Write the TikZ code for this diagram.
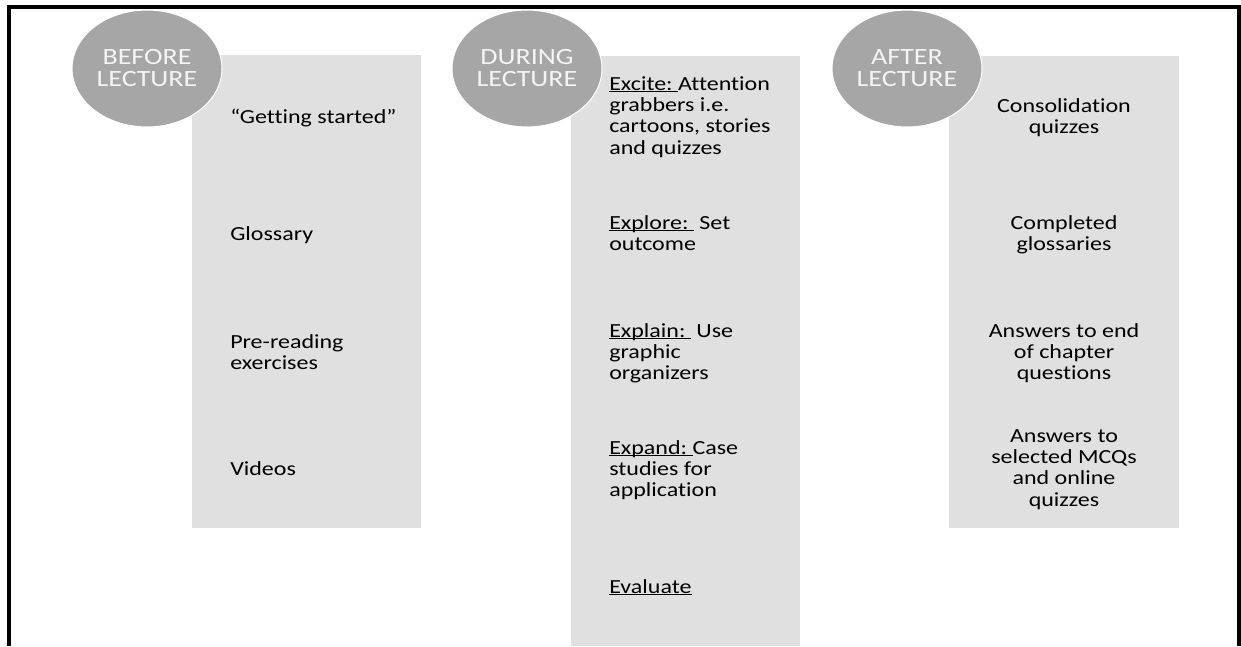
\documentclass[tikz,border=0pt]{standalone}
\usepackage{fontspec}
\setmainfont{Carlito}[FakeStretch=1.2, Ligatures=NoCommon]
\usetikzlibrary{shapes.geometric}
\definecolor{boxgray}{HTML}{E0E0E0}
\definecolor{ballgray}{HTML}{A6A6A6}
\definecolor{balltext}{HTML}{F4F4F4}
% underline just below the baseline
\newcommand{\undl}[1]{\setbox0\hbox{#1}\rlap{\rule[-1.6pt]{\wd0}{0.6pt}}\box0}

\begin{document}
\begin{tikzpicture}[x=0.75pt,y=-0.75pt,
    phase/.style={ellipse, fill=ballgray, draw=white, line width=0.8pt,
      minimum width=112.5pt, minimum height=87.75pt, inner sep=0pt,
      align=center, text=balltext, font=\fontsize{17.5}{16.5}\selectfont},
    item/.style={anchor=north west, align=left, inner sep=0pt,
      font=\fontsize{15}{16}\selectfont},
    citem/.style={item, anchor=north, align=center}]
    \useasboundingbox (0,0) rectangle (1241,646);

    % draw frame
    \draw[line width=3pt] (9,646) -- (9,7) -- (1239,7) -- (1239,646);

    % draw columns
    \fill[boxgray] (192,55) rectangle (421,528);
    \fill[boxgray] (571,56) rectangle (800,646);
    \fill[boxgray] (949,56) rectangle (1179,528);

    % draw phases
    \node[phase] (before) at (147,68.5) {BEFORE\\LECTURE};
    \node[phase] (during) at (527,68.5) {DURING\\LECTURE};
    \node[phase] (after) at (907,68.5) {AFTER\\LECTURE};

    % before lecture
    \node[item] (start) at (230,109) {“Getting started”};
    \node[item] (gloss) at (230,226) {Glossary};
    \node[item] (prered) at (230,334) {Pre-reading\\exercises};
    \node[item] (videos) at (230,461) {Videos};

    % during lecture
    \node[item] (excite) at (609,76) {\undl{Excite:\ }Attention\\grabbers i.e.\\cartoons, stories\\and quizzes};
    \node[item] (explore) at (609,215) {\undl{Explore:\ }\ Set\\outcome};
    \node[item] (explain) at (609,323) {\undl{Explain:\ }\ Use\\graphic\\organizers};
    \node[item] (expand) at (609,440) {\undl{Expand:\ }Case\\studies for\\application};
    \node[item] (evaluate) at (609,579) {\undl{Evaluate}};

    % after lecture
    \node[citem] (consol) at (1064,98) {Consolidation\\quizzes};
    \node[citem] (complete) at (1064,215) {Completed\\glossaries};
    \node[citem] (answend) at (1064,323) {Answers to end\\of chapter\\questions};
    \node[citem] (answmcq) at (1064,429) {Answers to\\selected MCQs\\and online\\quizzes};
\end{tikzpicture}
\end{document}
